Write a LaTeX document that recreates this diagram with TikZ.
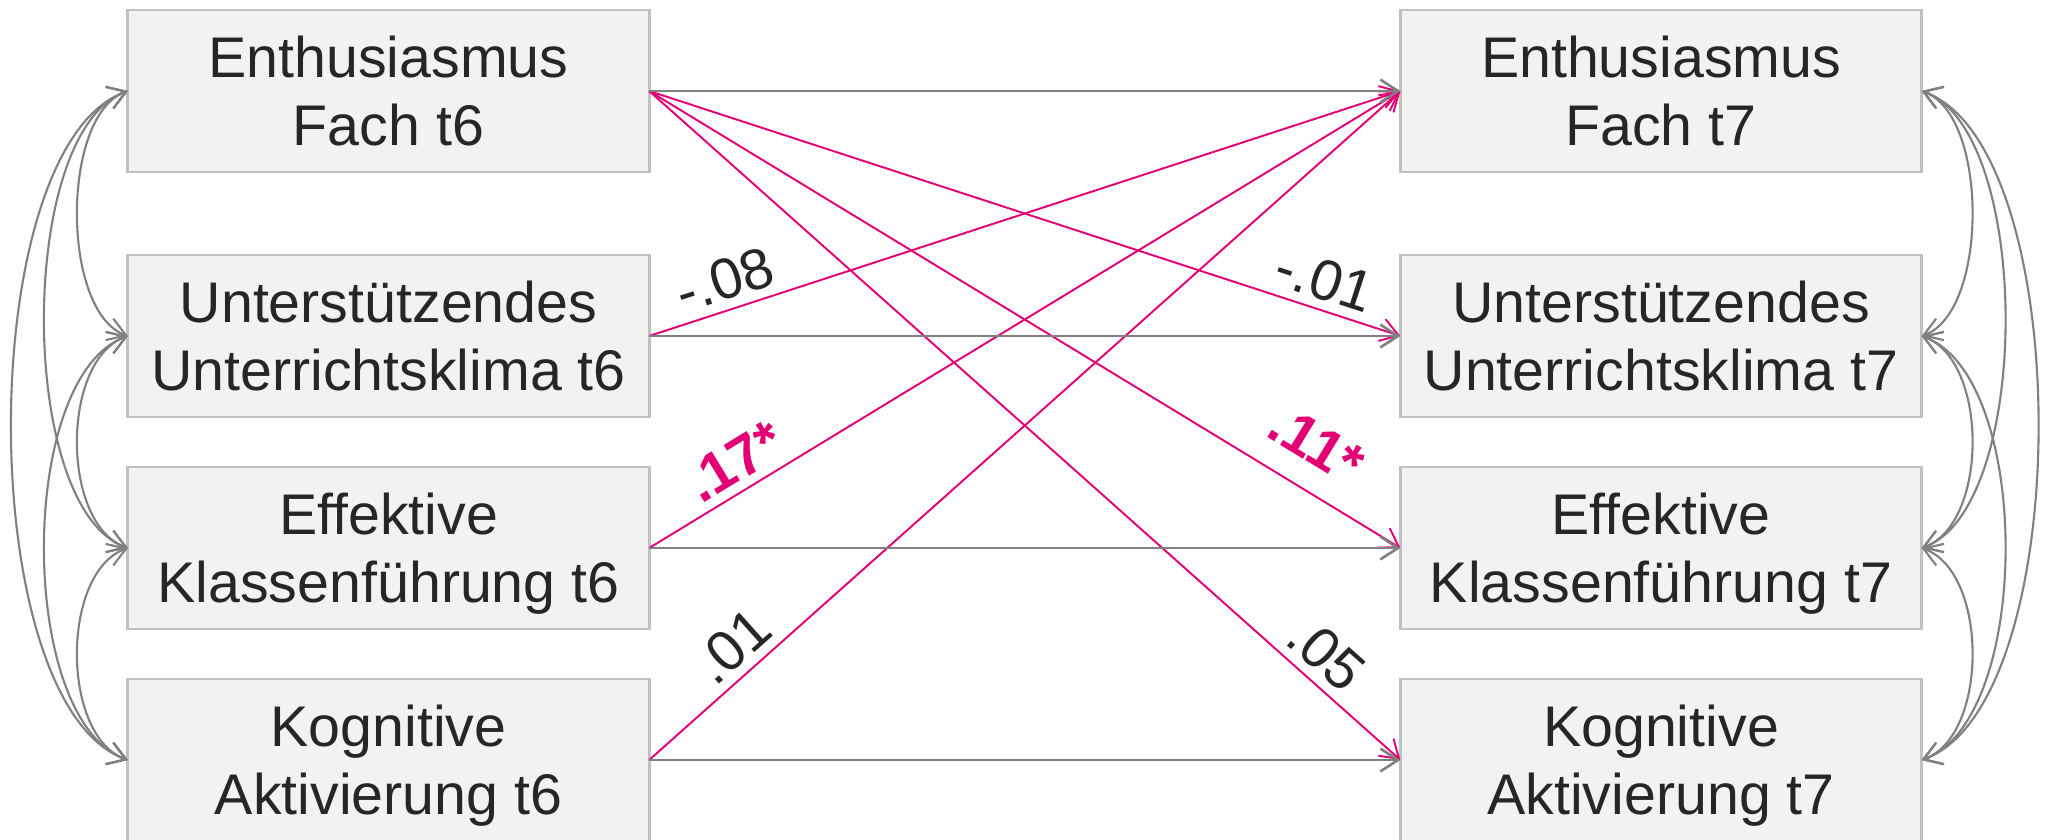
\documentclass[tikz,border=0pt]{standalone}
\usepackage{fontspec}
\setmainfont{Liberation Sans}
\usetikzlibrary{arrows.meta}

\definecolor{boxfill}{HTML}{F2F2F2}
\definecolor{boxedge}{HTML}{C0C0C0}
\definecolor{pathgray}{HTML}{808080}
\definecolor{textgray}{HTML}{262626}
\definecolor{tmag}{HTML}{E20074}

\begin{document}
\begin{tikzpicture}[x=0.01cm, y=-0.01cm,
    >={Straight Barb[length=5pt, width=6.5pt]},
    var/.style={draw=boxedge, line width=0.8pt, fill=boxfill, text=textgray,
      minimum width=5.21cm, minimum height=1.62cm, outer sep=0pt,
      align=center, text depth=0pt, font=\fontsize{16.3}{19.4}\selectfont},
    stab/.style={->, draw=pathgray, line width=0.75pt},
    cross/.style={->, draw=tmag, line width=0.55pt},
    cov/.style={<->, draw=pathgray, line width=0.6pt},
    coef/.style={sloped, above, inner sep=2.5pt, text=textgray,
      font=\fontsize{16.3}{19.4}\selectfont},
    sig/.style={coef, text=tmag, font=\fontsize{16.3}{19.4}\selectfont\bfseries}]
  \useasboundingbox (0,0) rectangle (2046,839);

  % t6 (left column)
  \node[var] (E6) at (388.5,91)  {Enthusiasmus\\Fach t6};
  \node[var] (U6) at (388.5,336) {Unterstützendes\\Unterrichtsklima t6};
  \node[var] (K6) at (388.5,548) {Effektive\\Klassenführung t6};
  \node[var] (A6) at (388.5,760) {Kognitive\\Aktivierung t6};
  % t7 (right column)
  \node[var] (E7) at (1661,91)  {Enthusiasmus\\Fach t7};
  \node[var] (U7) at (1661,336) {Unterstützendes\\Unterrichtsklima t7};
  \node[var] (K7) at (1661,548) {Effektive\\Klassenführung t7};
  \node[var] (A7) at (1661,760) {Kognitive\\Aktivierung t7};

  % cross-lagged paths
  \draw[cross] (U6.east) -- (E7.west) node[coef, pos=0.113] {-.08};
  \draw[cross] (K6.east) -- (E7.west) node[sig, pos=0.134] {.17*};
  \draw[cross] (A6.east) -- (E7.west) node[coef, pos=0.137] {.01};
  \draw[cross] (E6.east) -- (U7.west) node[coef, pos=0.887] {-.01};
  \draw[cross] (E6.east) -- (K7.west) node[sig, pos=0.857, above=4.5pt] {.11*};
  \draw[cross] (E6.east) -- (A7.west) node[coef, pos=0.875] {.05};

  % stability paths
  \foreach \l/\r in {E6/E7, U6/U7, K6/K7, A6/A7}
    \draw[stab] (\l.east) -- (\r.west);

  % correlations within t6 and t7
  \foreach \a/\b/\c/\d/\k in {E6/U6/E7/U7/67, E6/K6/E7/K7/111, E6/A6/E7/A7/155,
                              U6/K6/U7/K7/67, U6/A6/U7/A7/111, K6/A6/K7/A7/67} {
    \draw[cov] (\a.west) .. controls +(-\k,0.36*\k) and +(-\k,-0.36*\k) .. (\b.west);
    \draw[cov] (\c.east) .. controls +(\k,0.36*\k) and +(\k,-0.36*\k) .. (\d.east);
  }
\end{tikzpicture}
\end{document}
